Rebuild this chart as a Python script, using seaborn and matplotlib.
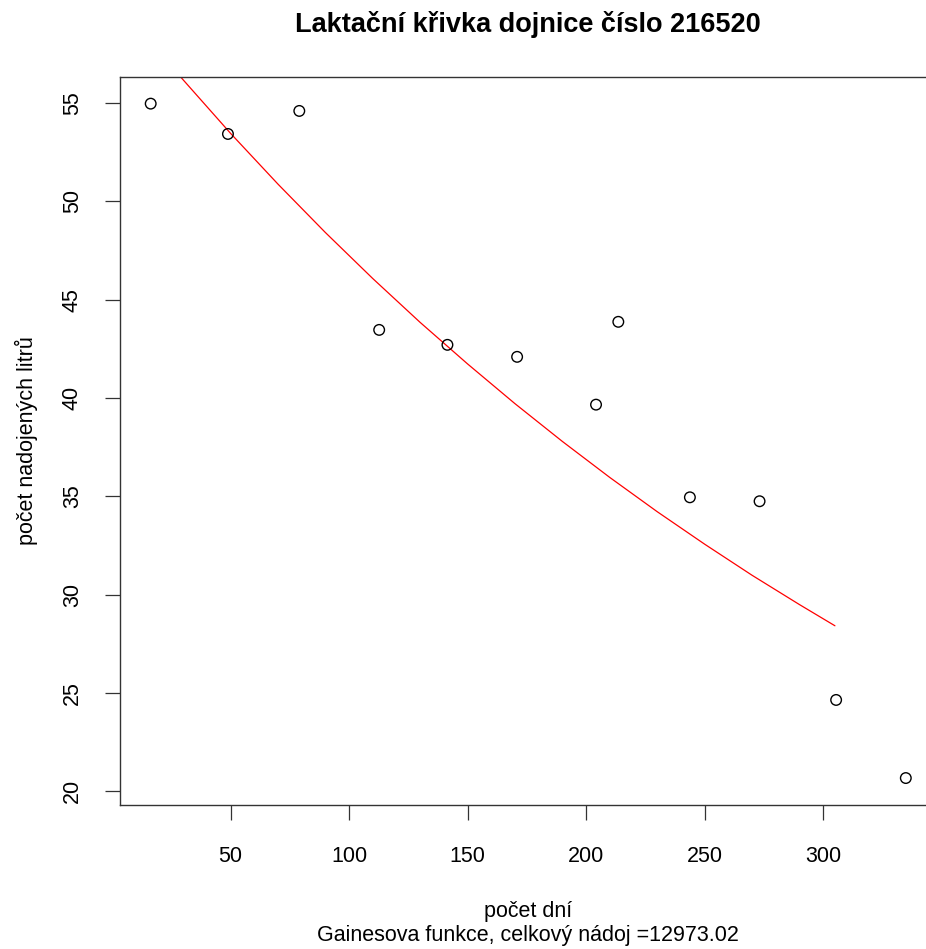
import matplotlib
matplotlib.use("Agg")
import matplotlib.pyplot as plt
import seaborn as sns
import pandas as pd

# ---- data ----
days = [16.3, 48.9, 79.0, 112.7, 141.5, 170.9, 204.2, 213.6, 243.8, 273.2, 305.5, 334.9]
milk = [54.96, 53.42, 54.59, 43.46, 42.70, 42.09, 39.66, 43.87, 34.95, 34.75, 24.65, 20.68]

# fitted Gaines curve
curve_days = [25, 30, 50, 70, 90, 110, 130, 150, 170, 190, 210, 230, 250, 270, 290, 305]
curve_milk = [56.87, 56.17, 53.45, 50.87, 48.41, 46.07, 43.84, 41.73, 39.71,
              37.79, 35.96, 34.22, 32.57, 30.99, 29.50, 28.42]

x_ticks = [50, 100, 150, 200, 250, 300]
y_ticks = [20, 25, 30, 35, 40, 45, 50, 55]

title = "Laktační křivka dojnice číslo 216520"
x_label = "počet dní"
sub_label = "Gainesova funkce, celkový nádoj =12973.02"
y_label = "počet nadojených litrů"

# ---- styling ----
sns.set_style("white")
plt.rcParams["font.family"] = ["Liberation Sans", "DejaVu Sans"]
plt.rcParams["text.color"] = "black"
plt.rcParams["axes.labelcolor"] = "black"

W, H = 926, 949
fig = plt.figure(figsize=(W / 100, H / 100), dpi=100)
left_px, right_px, top_px, bottom_px = 120.5, 936.0, 76.7, 805.0
ax = fig.add_axes([left_px / W, 1 - bottom_px / H,
                   (right_px - left_px) / W, (bottom_px - top_px) / H])

pts = pd.DataFrame({"day": days, "milk": milk})
crv = pd.DataFrame({"day": curve_days, "milk": curve_milk})

sns.lineplot(data=crv, x="day", y="milk", color="#FF0000", linewidth=0.9,
             sort=False, estimator=None, ax=ax, zorder=2)
sns.scatterplot(data=pts, x="day", y="milk", marker="o", s=58,
                facecolor="none", edgecolor="black", linewidth=1.0,
                ax=ax, zorder=3)

ax.set_xlim(3.56, 347.64)
ax.set_ylim(19.31, 56.33)
ax.set_xticks(x_ticks)
ax.set_yticks(y_ticks)
ax.set_xticklabels([str(v) for v in x_ticks])
ax.set_yticklabels([str(v) for v in y_ticks], rotation=90, va="center")

for sp in ax.spines.values():
    sp.set_visible(True)
    sp.set_color("#333333")
    sp.set_linewidth(1.0)

ax.tick_params(axis="both", which="major", bottom=True, left=True,
               top=False, right=False, direction="out", length=10.5,
               width=0.9, color="#333333", labelsize=15.5, labelcolor="black")
ax.tick_params(axis="x", pad=19)
ax.tick_params(axis="y", pad=16.5)

ax.set_title(title, fontsize=19.5, fontweight="bold", pad=32, color="black")

ax.set_xlabel(x_label, fontsize=15.5, va="baseline", color="black")
ax.xaxis.set_label_coords(0.5, (bottom_px - 917) / (bottom_px - top_px))
fig.text(((left_px + right_px) / 2) / W, 1 - 941 / H, sub_label,
         fontsize=15.5, ha="center", va="baseline", color="black")

ax.set_ylabel(y_label, fontsize=15.5, color="black")
ax.yaxis.set_label_coords((38 - left_px) / (right_px - left_px), 0.5)

fig.savefig("out.png", dpi=100)
